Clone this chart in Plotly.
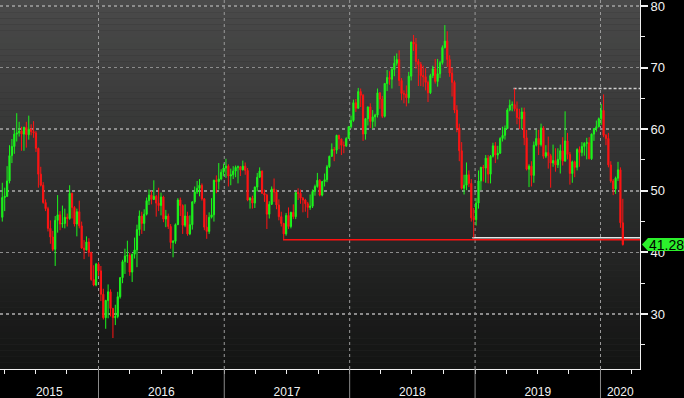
import pandas as pd
import plotly.graph_objects as go

# Weekly WTI-style OHLC (week ending Friday)
first_open = 45.7
high = [
    # 2015 (from late March)
    51.3, 50.5, 54.0, 57.4, 58.4, 59.9, 62.6, 61.2, 60.4, 60.4, 61.2, 62.2, 60.8, 61.3,
    59.7, 57.0, 53.9, 51.4, 48.6, 47.4, 45.2, 43.5, 45.9, 49.3, 46.7, 47.6, 47.1, 46.3,
    50.9, 49.7, 47.5, 47.1, 48.4, 45.0, 42.0, 42.6, 42.3, 40.1, 37.9, 38.3, 38.4,
    # 2016
    37.8, 34.1, 32.3, 34.8, 34.0, 31.0, 31.5, 33.6, 36.0, 38.8, 40.6, 41.9, 39.9, 39.8,
    42.4, 44.5, 46.8, 46.6, 47.0, 48.9, 50.2, 50.0, 51.7, 49.3, 50.5, 49.7, 49.2, 46.9,
    46.3, 44.6, 42.0, 44.7, 48.8, 48.9, 47.8, 47.8, 46.6, 46.0, 48.3, 50.7, 51.6, 51.9,
    51.2, 48.8, 46.1, 46.5, 48.8, 51.8, 52.5, 54.5, 53.5, 54.4,
    # 2017
    55.2, 54.3, 53.6, 54.0, 54.1, 54.1, 54.0, 54.9, 54.6, 53.7, 49.0, 49.2, 50.7, 52.9,
    53.8, 53.3, 50.2, 49.5, 48.3, 50.7, 52.0, 50.2, 48.6, 46.6, 44.8, 46.4, 47.3, 46.6,
    47.8, 49.8, 50.4, 50.2, 49.0, 48.7, 48.2, 49.4, 50.2, 51.0, 52.9, 51.9, 51.6, 52.8,
    54.2, 55.7, 57.7, 57.1, 59.1, 59.1, 58.5, 58.0, 58.7, 60.5,
    # 2018
    62.2, 64.8, 64.9, 66.7, 66.6, 65.7, 61.8, 63.7, 64.2, 63.1, 62.5, 66.6, 66.0, 65.4,
    67.5, 69.6, 69.4, 70.0, 71.9, 72.3, 72.8, 68.3, 66.3, 67.1, 69.3, 74.2, 75.3, 74.8,
    71.4, 70.9, 70.3, 69.9, 67.9, 69.0, 70.3, 71.4, 71.4, 71.1, 73.6, 76.9, 75.9, 72.0,
    70.0, 67.9, 63.9, 60.9, 57.9, 52.6, 54.6, 53.3, 51.9, 47.2,
    # 2019
    48.8, 53.3, 53.9, 54.2, 55.8, 55.8, 55.8, 57.8, 57.9, 57.3, 58.7, 60.4, 60.6, 63.4,
    64.8, 64.5, 66.6, 64.5, 63.3, 63.5, 63.5, 59.9, 54.3, 54.8, 58.0, 59.9, 59.9, 60.9,
    60.5, 57.4, 58.8, 56.0, 57.5, 56.9, 56.9, 57.5, 58.7, 62.9, 59.4, 56.3, 54.9, 54.9,
    56.9, 57.2, 57.9, 57.9, 58.6, 58.7, 59.3, 60.2, 61.4, 61.9,
    # 2020
    64.1, 65.65, 59.2, 59.4, 54.8, 51.9, 52.3, 54.7, 53.8, 48.7,
]
low = [
    # 2015
    45.0, 46.7, 49.0, 51.2, 54.5, 56.0, 58.0, 58.8, 56.5, 56.5, 57.0, 58.3, 59.0, 58.6,
    56.3, 50.5, 50.7, 47.9, 46.7, 43.4, 41.4, 40.2, 37.8, 43.2, 43.6, 44.0, 43.9, 44.2,
    45.3, 45.5, 44.2, 42.6, 43.9, 40.6, 38.9, 40.3, 39.3, 35.4, 34.5, 34.5, 36.2,
    # 2016
    32.1, 29.1, 27.6, 29.3, 29.6, 26.1, 28.2, 29.3, 32.5, 35.0, 36.5, 38.3, 36.2, 35.2,
    39.0, 37.6, 42.7, 43.0, 43.5, 46.0, 47.7, 47.8, 48.5, 45.8, 46.7, 46.0, 44.9, 44.1,
    43.8, 40.6, 39.2, 41.4, 44.5, 45.9, 43.0, 44.1, 42.7, 42.8, 43.7, 47.9, 49.5, 49.1,
    48.4, 43.6, 42.2, 43.0, 45.5, 45.0, 49.6, 50.2, 51.7, 52.4,
    # 2017
    52.1, 50.7, 50.9, 51.9, 52.2, 51.2, 52.4, 53.3, 52.6, 48.3, 47.1, 47.1, 47.2, 49.9,
    52.1, 49.5, 48.2, 43.8, 45.5, 47.7, 48.2, 47.0, 45.2, 44.2, 42.05, 42.7, 43.8, 43.9,
    45.4, 45.4, 48.5, 47.9, 46.5, 46.6, 45.6, 46.9, 47.2, 49.2, 50.5, 49.1, 49.1, 50.7,
    51.4, 53.7, 55.5, 54.8, 56.0, 56.75, 55.8, 56.1, 57.1, 58.4,
    # 2018
    60.1, 61.2, 62.8, 63.3, 63.6, 58.1, 58.3, 60.6, 60.2, 60.1, 60.4, 61.9, 63.3, 61.8,
    61.9, 66.2, 67.2, 66.6, 68.6, 70.3, 67.0, 64.7, 64.2, 63.7, 64.2, 67.9, 72.7, 69.8,
    67.0, 67.0, 66.9, 66.3, 64.4, 65.7, 68.3, 67.4, 66.9, 68.3, 70.5, 73.1, 70.1, 68.5,
    65.3, 62.6, 59.5, 54.8, 50.2, 49.4, 50.1, 50.6, 45.0, 42.4,
    # 2019
    44.35, 47.1, 50.1, 51.5, 51.3, 51.2, 51.2, 55.4, 54.5, 55.1, 56.0, 58.0, 58.3, 60.0,
    62.9, 62.9, 62.9, 60.8, 60.0, 60.0, 57.4, 53.3, 50.6, 50.7, 51.3, 57.2, 55.8, 57.2,
    55.2, 55.3, 53.6, 50.5, 53.9, 53.1, 53.7, 52.8, 54.1, 54.7, 55.1, 50.99, 51.3, 52.2,
    53.3, 53.9, 55.6, 55.7, 55.1, 55.1, 55.0, 58.1, 59.6, 60.3,
    # 2020
    60.7, 58.7, 57.4, 53.8, 51.3, 49.3, 49.5, 51.6, 44.0, 41.1,
]
close = [
    # 2015
    48.9, 49.1, 51.6, 55.7, 57.2, 59.2, 59.4, 59.7, 59.2, 60.3, 59.1, 60.0, 59.6, 59.4,
    56.9, 52.7, 50.9, 48.1, 47.1, 43.9, 42.5, 40.5, 45.2, 46.1, 44.6, 44.7, 45.7, 45.5,
    49.6, 47.3, 44.6, 46.6, 44.3, 40.7, 40.4, 41.7, 40.0, 35.6, 34.7, 38.1, 37.0,
    # 2016
    33.2, 29.4, 32.2, 33.6, 30.9, 29.4, 29.6, 32.8, 35.9, 38.5, 39.4, 39.5, 36.8, 39.7,
    40.4, 43.7, 45.9, 44.7, 46.2, 48.4, 49.3, 48.6, 49.1, 48.0, 47.6, 49.0, 45.4, 45.9,
    44.2, 41.6, 41.8, 44.5, 48.5, 47.6, 44.4, 45.9, 43.0, 44.5, 48.2, 49.8, 50.4, 50.9,
    48.7, 44.1, 43.4, 45.7, 46.1, 51.7, 51.5, 51.9, 53.0, 53.7,
    # 2017
    54.0, 52.4, 52.6, 53.2, 53.8, 53.9, 53.4, 54.0, 53.3, 48.5, 48.8, 48.0, 50.6, 52.2,
    53.2, 49.6, 49.3, 46.2, 47.8, 50.3, 49.8, 47.7, 45.8, 44.7, 43.0, 46.0, 44.2, 46.5,
    45.8, 49.7, 49.6, 48.8, 48.5, 47.9, 47.3, 47.5, 49.9, 50.7, 51.7, 49.3, 51.5, 51.8,
    53.9, 55.6, 56.7, 56.6, 59.0, 58.4, 57.4, 57.3, 58.5, 60.4,
    # 2018
    61.4, 64.3, 63.4, 66.1, 65.5, 59.2, 61.7, 63.6, 61.25, 62.0, 62.3, 65.9, 64.9, 62.1,
    67.4, 68.4, 68.1, 69.7, 70.7, 71.3, 67.9, 65.8, 65.7, 65.1, 68.6, 74.15, 73.8, 71.0,
    70.5, 68.7, 68.5, 67.6, 65.9, 68.7, 69.8, 67.75, 69.0, 70.8, 73.25, 74.3, 71.3, 69.1,
    67.6, 63.1, 60.2, 56.5, 50.4, 50.9, 52.6, 51.2, 45.6, 45.3,
    # 2019
    48.0, 51.6, 53.8, 53.7, 55.3, 52.7, 55.6, 57.3, 55.8, 56.1, 58.5, 59.0, 60.1, 63.1,
    63.9, 64.0, 63.3, 61.9, 61.7, 62.8, 58.6, 53.5, 54.0, 52.5, 57.4, 58.5, 57.5, 60.2,
    55.6, 56.2, 55.7, 54.5, 54.9, 54.2, 55.1, 56.5, 54.85, 58.1, 55.9, 52.8, 54.7, 53.8,
    56.7, 56.2, 57.2, 57.7, 57.8, 55.2, 59.2, 60.1, 60.4, 61.7,
    # 2020
    63.05, 59.0, 58.5, 54.2, 51.6, 50.3, 52.05, 53.4, 44.8, 41.28,
]
open_ = [first_open] + close[:-1]
dates = pd.date_range(start="2015-03-27", periods=len(close), freq="W-FRI")

last_price = 41.28
support_2017 = ("2017-06-21", 42.05)
support_2018 = ("2018-12-24", 42.36)
resist_2019 = ("2019-04-23", 66.6)

x_start, x_end = pd.Timestamp("2015-03-20 08:00"), pd.Timestamp("2020-04-25")
y_lo, y_hi = 21.07, 80.97
years = [2015, 2016, 2017, 2018, 2019, 2020]
y_ticks = [30, 40, 50, 60, 70, 80]

GREEN = "#1cf51c"
RED = "#ff1414"

fig = go.Figure(go.Candlestick(
    x=dates, open=open_, high=high, low=low, close=close,
    increasing=dict(line=dict(color=GREEN, width=1), fillcolor=GREEN),
    decreasing=dict(line=dict(color=RED, width=1), fillcolor=RED),
    whiskerwidth=0, hoverinfo="skip", showlegend=False,
))

shapes = []
# vertical gradient background in bands
N = 60
top_c, bot_c = (74, 74, 74), (19, 20, 19)
for i in range(N):
    t = i / (N - 1)
    c = tuple(round(top_c[k] + (bot_c[k] - top_c[k]) * t) for k in range(3))
    shapes.append(dict(type="rect", xref="paper", yref="paper", x0=0, x1=1,
                       y0=1 - (i + 1) / N, y1=1 - i / N, layer="below",
                       fillcolor="rgb(%d,%d,%d)" % c, line=dict(width=0)))

# year separators
for yr in years[1:]:
    d = pd.Timestamp(f"{yr}-01-01")
    shapes.append(dict(type="line", xref="x", yref="paper", x0=d, x1=d, y0=0, y1=1,
                       layer="between", line=dict(color="#9a9a9a", width=1, dash="3px,3px")))
    shapes.append(dict(type="line", xref="x", yref="paper", x0=d, x1=d, y0=-29 / 369, y1=0,
                       layer="above", line=dict(color="#8a8a8a", width=1)))

# reference levels
shapes.append(dict(type="line", xref="x", yref="y", x0=support_2017[0], x1=x_end,
                   y0=support_2017[1], y1=support_2017[1], layer="between",
                   line=dict(color="#ff1010", width=1.3)))
shapes.append(dict(type="line", xref="x", yref="y", x0=support_2018[0], x1=x_end,
                   y0=support_2018[1], y1=support_2018[1], layer="between",
                   line=dict(color="#e6e6e6", width=1.5)))
shapes.append(dict(type="line", xref="x", yref="y", x0=resist_2019[0], x1=x_end,
                   y0=resist_2019[1], y1=resist_2019[1], layer="between",
                   line=dict(color="#d0d0d0", width=1.5, dash="3px,2px")))

# last price tag
px_per_unit = 369 / (y_hi - y_lo)
hh = 6.5 / px_per_unit
xp = lambda px: 1 + px / 640
path = (f"M {xp(2)},{last_price} L {xp(8)},{last_price + hh} L {xp(44)},{last_price + hh} "
        f"L {xp(44)},{last_price - hh} L {xp(8)},{last_price - hh} Z")
shapes.append(dict(type="path", xref="paper", yref="y", path=path, layer="above",
                   fillcolor="#2cf02c", line=dict(width=0)))

# year label positions: middle of the visible part of each year
label_pos = []
for yr in years:
    a = max(pd.Timestamp(f"{yr}-01-01"), x_start)
    b = min(pd.Timestamp(f"{yr + 1}-01-01"), x_end)
    label_pos.append(a + (b - a) / 2)

fig.update_layout(
    width=684, height=398,
    margin=dict(l=0, r=44, t=0, b=29, autoexpand=False),
    paper_bgcolor="black", plot_bgcolor="#2e2e2e",
    font=dict(family="Liberation Sans, Arial, sans-serif", color="#f2f2f2"),
    shapes=shapes,
    hovermode=False,
    showlegend=False,
    annotations=[dict(x=xp(26), y=last_price, xref="paper", yref="y", text=f"{last_price:.2f}",
                      showarrow=False, xanchor="center", yanchor="middle",
                      font=dict(size=14, color="black", family="Liberation Sans, Arial"))],
)
fig.update_xaxes(
    type="date", range=[x_start, x_end], rangeslider=dict(visible=False),
    tickmode="array", tickvals=label_pos, ticktext=[str(y) for y in years],
    ticks="", ticklabelstandoff=12, tickfont=dict(size=12, color="#f2f2f2"),
    showgrid=False, zeroline=False, showline=True, linecolor="#f0f0f0", linewidth=1,
    minor=dict(ticks="outside", ticklen=4, tickcolor="#f0f0f0", tickwidth=1,
               dtick="M3", tick0="2015-01-01", showgrid=False),
    automargin=False, fixedrange=True,
)
fig.update_yaxes(
    side="right", range=[y_lo, y_hi], tickmode="array", tickvals=y_ticks,
    ticks="outside", ticklen=7, tickwidth=2, tickcolor="#f0f0f0",
    tickfont=dict(size=13, color="#f2f2f2"), ticklabeloverflow="allow",
    showgrid=True, gridcolor="#8c8c8c", gridwidth=1.5, griddash="3px,3px",
    zeroline=False, showline=True, linecolor="#f0f0f0", linewidth=1,
    minor=dict(ticks="outside", ticklen=4, tickcolor="#f0f0f0", tickwidth=1,
               tickvals=[25, 35, 45, 55, 65, 75], showgrid=False),
    automargin=False, fixedrange=True,
)

fig.write_html(
    "out.html",
    config={"displayModeBar": False, "staticPlot": True},
    post_script="document.body.style.margin='0';document.body.style.background='black';",
)
